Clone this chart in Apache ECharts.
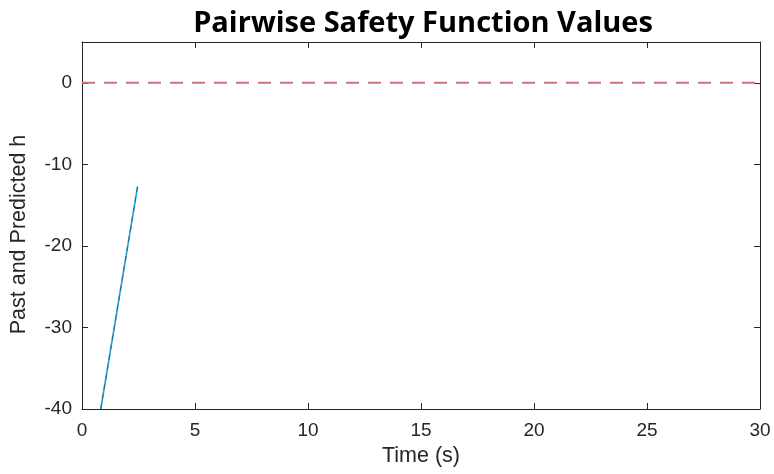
<!DOCTYPE html>
<html><head><meta charset="utf-8">
<script src="https://cdn.jsdelivr.net/npm/echarts@6/dist/echarts.min.js"></script>
<style>html,body{margin:0;padding:0;background:#fff}#c{width:774px;height:474px}</style>
</head><body><div id="c"></div>
<script>
const titleText = 'Pairwise Safety Function Values';
const xName = 'Time (s)';
const yName = 'Past and Predicted h';
const xTicks = [0, 5, 10, 15, 20, 25, 30];
const yTicks = [-40, -30, -20, -10, 0];
const pastH = [[0.83, -40], [2.46, -12.7]];
const predictedH = [[0.83, -40], [2.46, -12.7]];
const zeroLine = [[0, 0], [30, 0]];

const chart = echarts.init(document.getElementById('c'));
const axisCol = '#262626';
const font = 'Liberation Sans';
const baseX = {type:'value', min:0, max:30, interval:5,
  axisLine:{show:true,onZero:false,lineStyle:{color:axisCol,width:1}},
  axisTick:{show:true,inside:true,length:6,lineStyle:{color:axisCol}},
  splitLine:{show:false}};
const baseY = {type:'value', min:-40, max:5, interval:10,
  axisLine:{show:true,onZero:false,lineStyle:{color:axisCol,width:1}},
  axisTick:{show:true,inside:true,length:6,lineStyle:{color:axisCol}},
  splitLine:{show:false}};
chart.setOption({
  animation:false,
  backgroundColor:'#fff',
  title:{text:titleText,left:418,textAlign:'center',top:4,
    textStyle:{fontFamily:'Open Sans',fontWeight:'bold',fontSize:29,color:'#000'}},
  grid:{left:82,right:14,top:42,bottom:65,containLabel:false,outerBoundsMode:'none'},
  xAxis:[
    Object.assign({}, baseX, {position:'bottom', name:xName, nameLocation:'middle', nameGap:35,
      nameTextStyle:{fontFamily:font,fontSize:21.5,color:axisCol},
      axisLabel:{fontFamily:font,fontSize:19,color:axisCol,margin:12,
        formatter:v=>xTicks.includes(v)?String(v):''}}),
    Object.assign({}, baseX, {position:'top', axisLabel:{show:false}})
  ],
  yAxis:[
    Object.assign({}, baseY, {position:'left', name:yName, nameLocation:'middle', nameGap:52,
      nameTextStyle:{fontFamily:font,fontSize:21.5,color:axisCol,padding:[0,18,0,0]},
      axisLabel:{fontFamily:font,fontSize:19,color:axisCol,margin:10,showMaxLabel:false,
        formatter:v=>yTicks.includes(v)?String(v):''}}),
    Object.assign({}, baseY, {position:'right', axisLabel:{show:false}})
  ],
  series:[
    {type:'line',data:zeroLine,showSymbol:false,symbol:'none',
      lineStyle:{color:'#d0707c',width:2,type:[13,9]}},
    {type:'line',data:pastH,showSymbol:false,symbol:'none',
      lineStyle:{color:'#1ea0e0',width:1.6}},
    {type:'line',data:predictedH,showSymbol:false,symbol:'none',
      lineStyle:{color:'#3f6470',width:1,type:[5,5]}}
  ]
});
</script></body></html>
